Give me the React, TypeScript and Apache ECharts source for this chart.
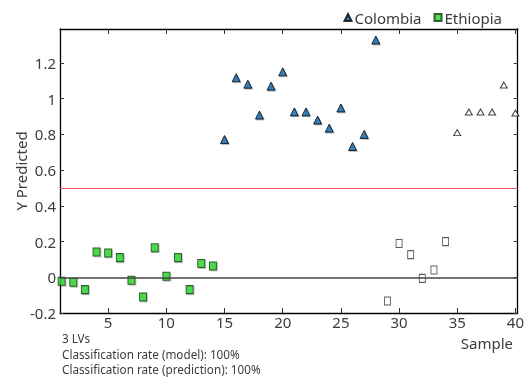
import React, { useEffect, useRef } from "react";
import * as echarts from "echarts";

const ethiopiaModelX = [1, 2, 3, 4, 5, 6, 7, 8, 9, 10, 11, 12, 13, 14];
const ethiopiaModelY = [-0.022, -0.028, -0.069, 0.142, 0.136, 0.11, -0.017, -0.11, 0.165, 0.006, 0.11, -0.069, 0.077, 0.063];
const colombiaModelX = [15, 16, 17, 18, 19, 20, 21, 22, 23, 24, 25, 26, 27, 28];
const colombiaModelY = [0.771, 1.117, 1.081, 0.908, 1.07, 1.15, 0.926, 0.926, 0.88, 0.835, 0.948, 0.732, 0.8, 1.328];
const ethiopiaPredX = [29, 30, 31, 32, 33, 34];
const ethiopiaPredY = [-0.133, 0.189, 0.127, -0.006, 0.041, 0.2];
const colombiaPredX = [35, 36, 37, 38, 39, 40];
const colombiaPredY = [0.81, 0.925, 0.925, 0.925, 1.076, 0.92];
const xTicks = [5, 10, 15, 20, 25, 30, 35, 40];
const yTicks = [-0.2, 0, 0.2, 0.4, 0.6, 0.8, 1, 1.2];
const annotations = ["3 LVs", "Classification rate (model): 100%", "Classification rate (prediction): 100%"];
const threshold = 0.5;

const zip = (xs: number[], ys: number[]) => xs.map((x, i) => [x, ys[i]]);

const FONT = "Noto Sans";
const TEXT = "#3c3c3c";

export default function App() {
  const ref = useRef<HTMLDivElement>(null);
  useEffect(() => {
    if (!ref.current) return;
    const chart = echarts.init(ref.current, undefined, { renderer: "svg" });
    const xBase = {
      type: "value",
      min: 0.86,
      max: 40.2,
      splitLine: { show: false },
      axisLine: { show: true, onZero: false, lineStyle: { color: "#000", width: 1.3 } },
      axisTick: { show: true, inside: true, length: 5, customValues: xTicks, lineStyle: { color: "#333" } },
    };
    const yBase = {
      type: "value",
      min: -0.2,
      max: 1.39,
      splitLine: { show: false },
      axisLine: { show: true, onZero: false, lineStyle: { color: "#000", width: 1.3 } },
      axisTick: { show: true, inside: true, length: 4, customValues: yTicks, lineStyle: { color: "#333" } },
    };
    chart.setOption({
      animation: false,
      grid: { left: 60, right: 8, top: 29, bottom: 72 },
      legend: {
        data: ["Colombia", "Ethiopia"],
        right: 20,
        top: 5,
        itemWidth: 7,
        itemHeight: 7,
        itemGap: 12,
        textStyle: { fontFamily: FONT, fontSize: 15, color: TEXT, padding: [0, 0, 0, -2] },
      },
      xAxis: [
        {
          ...xBase,
          position: "bottom",
          axisLabel: {
            show: true,
            customValues: xTicks,
            fontFamily: FONT,
            fontSize: 15,
            color: TEXT,
            margin: 1,
          },
        },
        { ...xBase, position: "top", axisLabel: { show: false } },
      ],
      yAxis: [
        {
          ...yBase,
          position: "left",
          axisLabel: {
            show: true,
            customValues: yTicks,
            fontFamily: FONT,
            fontSize: 15,
            color: TEXT,
            margin: 4,
            formatter: (v: number) => String(Number(v.toFixed(1))),
          },
        },
        { ...yBase, position: "right", axisLabel: { show: false } },
      ],
      graphic: [
        {
          type: "text",
          x: 21,
          y: 171,
          rotation: Math.PI / 2,
          style: {
            text: "Y Predicted",
            fontFamily: FONT,
            fontSize: 15,
            fill: TEXT,
            align: "center",
            verticalAlign: "middle",
          },
        },
        {
          type: "text",
          x: 513,
          y: 343,
          style: {
            text: "Sample",
            fontFamily: FONT,
            fontSize: 15,
            fill: TEXT,
            align: "right",
            verticalAlign: "middle",
          },
        },
        ...annotations.map((t, i) => ({
          type: "text",
          x: 62,
          y: 338 + i * 15.5,
          style: {
            text: t,
            fontFamily: FONT,
            fontSize: 11.7,
            fill: TEXT,
            align: "left",
            verticalAlign: "middle",
          },
        })),
      ],
      series: [
        {
          name: "Colombia",
          type: "scatter",
          data: zip(colombiaModelX, colombiaModelY),
          symbol: "triangle",
          symbolSize: [8, 8],
          itemStyle: { color: "#0a68b4", borderColor: "#000", borderWidth: 1, shadowColor: "rgba(0,0,0,0.25)", shadowOffsetX: 1, shadowOffsetY: 1, shadowBlur: 1 },
          markLine: {
            silent: true,
            symbol: "none",
            label: { show: false },
            data: [
              { yAxis: 0, lineStyle: { color: "#444", width: 1.5, type: "solid" } },
              { yAxis: threshold, lineStyle: { color: "#ef5b5b", width: 1.2, type: "solid" } },
            ],
          },
          z: 3,
        },
        {
          name: "Ethiopia",
          type: "scatter",
          data: zip(ethiopiaModelX, ethiopiaModelY),
          symbol: "rect",
          symbolSize: [7, 8],
          itemStyle: { color: "#2bd52b", borderColor: "#0c3d0c", borderWidth: 1, shadowColor: "rgba(0,0,0,0.25)", shadowOffsetX: 1, shadowOffsetY: 1, shadowBlur: 1 },
          z: 3,
        },
        {
          name: "Colombia prediction",
          type: "scatter",
          data: zip(colombiaPredX, colombiaPredY),
          symbol: "triangle",
          symbolSize: [7, 6],
          itemStyle: { color: "#fff", borderColor: "#111", borderWidth: 1 },
          z: 3,
        },
        {
          name: "Ethiopia prediction",
          type: "scatter",
          data: zip(ethiopiaPredX, ethiopiaPredY),
          symbol: "rect",
          symbolSize: [6, 8],
          itemStyle: { color: "#fff", borderColor: "#333", borderWidth: 1 },
          z: 3,
        },
      ],
    });
    return () => chart.dispose();
  }, []);
  return <div ref={ref} style={{ position: "fixed", left: 0, top: 0, width: 527, height: 385 }} />;
}
